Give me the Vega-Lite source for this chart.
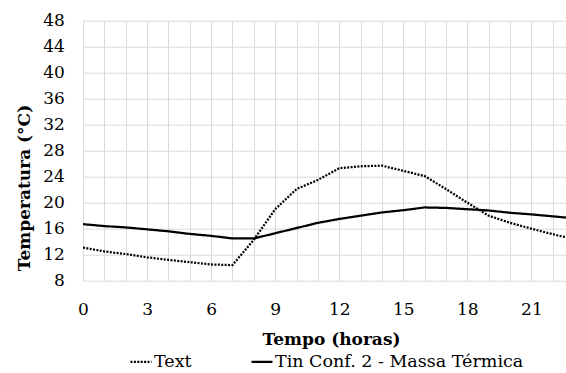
{
  "$schema": "https://vega.github.io/schema/vega-lite/v6.json",
  "width": 483,
  "height": 260,
  "autosize": {"type": "none"},
  "padding": {"left": 83, "top": 20.7, "right": 0, "bottom": 92.3},
  "background": "white",
  "config": {
    "font": "DejaVu Serif",
    "view": {"stroke": null},
    "axis": {"labelFont": "DejaVu Serif", "titleFont": "DejaVu Serif", "labelColor": "#000", "titleColor": "#000", "labelFontSize": 17, "titleFontSize": 17, "titleFontWeight": "bold", "gridColor": "#d9d9d9", "gridWidth": 1, "domain": false, "ticks": false},
    "legend": {"labelFont": "DejaVu Serif", "labelFontSize": 17.5, "labelColor": "#000"}
  },
  "data": {"values": [
    {"h": 0, "s": "Text", "v": 13.1}, {"h": 1, "s": "Text", "v": 12.5}, {"h": 2, "s": "Text", "v": 12.1}, {"h": 3, "s": "Text", "v": 11.6},
    {"h": 4, "s": "Text", "v": 11.2}, {"h": 5, "s": "Text", "v": 10.85}, {"h": 6, "s": "Text", "v": 10.5}, {"h": 7, "s": "Text", "v": 10.4},
    {"h": 8, "s": "Text", "v": 14.3}, {"h": 9, "s": "Text", "v": 19.0}, {"h": 10, "s": "Text", "v": 22.1}, {"h": 11, "s": "Text", "v": 23.5},
    {"h": 12, "s": "Text", "v": 25.3}, {"h": 13, "s": "Text", "v": 25.6}, {"h": 14, "s": "Text", "v": 25.7}, {"h": 15, "s": "Text", "v": 24.9},
    {"h": 16, "s": "Text", "v": 24.1}, {"h": 17, "s": "Text", "v": 22.1}, {"h": 18, "s": "Text", "v": 20.0}, {"h": 19, "s": "Text", "v": 18.0},
    {"h": 20, "s": "Text", "v": 16.9}, {"h": 21, "s": "Text", "v": 16.0}, {"h": 22, "s": "Text", "v": 15.15}, {"h": 23, "s": "Text", "v": 14.4},
    {"h": 0, "s": "Tin Conf. 2 - Massa Térmica", "v": 16.7}, {"h": 1, "s": "Tin Conf. 2 - Massa Térmica", "v": 16.4}, {"h": 2, "s": "Tin Conf. 2 - Massa Térmica", "v": 16.2}, {"h": 3, "s": "Tin Conf. 2 - Massa Térmica", "v": 15.9},
    {"h": 4, "s": "Tin Conf. 2 - Massa Térmica", "v": 15.6}, {"h": 5, "s": "Tin Conf. 2 - Massa Térmica", "v": 15.2}, {"h": 6, "s": "Tin Conf. 2 - Massa Térmica", "v": 14.9}, {"h": 7, "s": "Tin Conf. 2 - Massa Térmica", "v": 14.5},
    {"h": 8, "s": "Tin Conf. 2 - Massa Térmica", "v": 14.5}, {"h": 9, "s": "Tin Conf. 2 - Massa Térmica", "v": 15.3}, {"h": 10, "s": "Tin Conf. 2 - Massa Térmica", "v": 16.1}, {"h": 11, "s": "Tin Conf. 2 - Massa Térmica", "v": 16.9},
    {"h": 12, "s": "Tin Conf. 2 - Massa Térmica", "v": 17.5}, {"h": 13, "s": "Tin Conf. 2 - Massa Térmica", "v": 18.0}, {"h": 14, "s": "Tin Conf. 2 - Massa Térmica", "v": 18.5}, {"h": 15, "s": "Tin Conf. 2 - Massa Térmica", "v": 18.85},
    {"h": 16, "s": "Tin Conf. 2 - Massa Térmica", "v": 19.27}, {"h": 17, "s": "Tin Conf. 2 - Massa Térmica", "v": 19.2}, {"h": 18, "s": "Tin Conf. 2 - Massa Térmica", "v": 19.0}, {"h": 19, "s": "Tin Conf. 2 - Massa Térmica", "v": 18.8},
    {"h": 20, "s": "Tin Conf. 2 - Massa Térmica", "v": 18.45}, {"h": 21, "s": "Tin Conf. 2 - Massa Térmica", "v": 18.2}, {"h": 22, "s": "Tin Conf. 2 - Massa Térmica", "v": 17.9}, {"h": 23, "s": "Tin Conf. 2 - Massa Térmica", "v": 17.6}
  ]},
  "mark": {"type": "line", "color": "#000", "strokeWidth": 2.25, "clip": true},
  "encoding": {
    "x": {
      "field": "h", "type": "quantitative",
      "scale": {"domain": [0, 22.62], "nice": false, "zero": false},
      "axis": {
        "title": "Tempo (horas)",
        "values": [0,1,2,3,4,5,6,7,8,9,10,11,12,13,14,15,16,17,18,19,20,21,22],
        "labelExpr": "datum.value % 3 === 0 ? datum.label : ''",
        "labelPadding": 21, "labelFlush": false, "labelOverlap": false,
        "titleX": 248, "titleY": 64, "titleAlign": "center", "titleBaseline": "alphabetic"
      }
    },
    "y": {
      "field": "v", "type": "quantitative",
      "scale": {"domain": [8, 48], "nice": false, "zero": false},
      "axis": {
        "title": "Temperatura (°C)",
        "values": [8,12,16,20,24,28,32,36,40,44,48],
        "labelPadding": 18.7,
        "titleX": -59, "titleY": 166.8, "titleAlign": "center", "titleBaseline": "middle", "titleAngle": -90
      }
    },
    "strokeDash": {
      "field": "s", "type": "nominal",
      "scale": {"domain": ["Text", "Tin Conf. 2 - Massa Térmica"], "range": [[2, 1.4], [1, 0]]},
      "legend": {
        "title": null, "orient": "none", "direction": "horizontal",
        "legendX": 46, "legendY": 329, "padding": 0,
        "symbolType": "stroke", "symbolSize": 441, "symbolStrokeWidth": 2.25, "symbolStrokeColor": "#000",
        "labelOffset": 1, "columnPadding": 55, "labelLimit": 400
      }
    }
  }
}
